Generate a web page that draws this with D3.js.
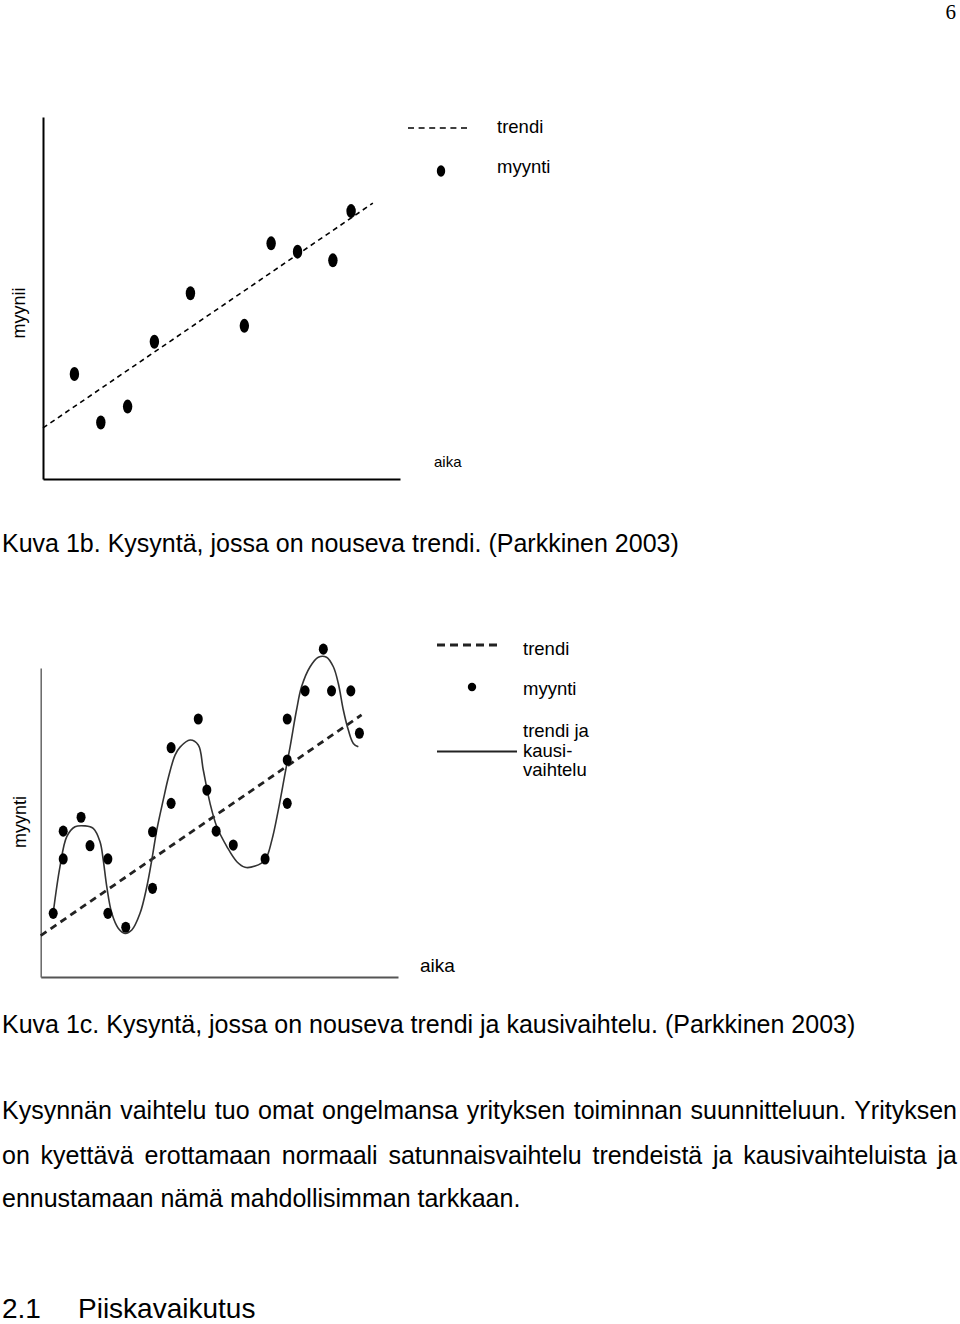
<!DOCTYPE html>
<html>
<head>
<meta charset="utf-8">
<script src="https://cdn.jsdelivr.net/npm/d3@7"></script>
<style>
  body { margin: 0; background: #fff; }
  svg text { font-family: "Liberation Sans", Arial, sans-serif; fill: #000; }
</style>
</head>
<body>
<svg id="page" width="960" height="1324"></svg>
<script>
// kuva 1b: myynti + trendi (x = aika 0..100, y = myynti 0..100)
const sales1X = [8.8, 16.2, 23.7, 31.2, 41.3, 56.4, 63.9, 71.3, 81.2, 86.3];
const sales1Y = [29.0, 15.6, 20.0, 37.9, 51.3, 42.3, 65.1, 62.8, 60.4, 74.0];
const trend1X = [0, 92.4];
const trend1Y = [14.1, 76.2];

// kuva 1c: myynti, trendi ja kausivaihtelu
const sales2X = [3.5, 6.3, 6.3, 11.3, 13.8, 18.8, 18.8, 23.8, 31.3, 31.3, 36.5, 36.5, 44.1,
                 46.5, 49.1, 53.9, 62.8, 69.0, 69.0, 69.0, 74.0, 79.1, 81.4, 86.8, 89.2];
const sales2Y = [20.6, 38.2, 47.2, 51.7, 42.5, 38.2, 20.6, 16.1, 47.0, 28.7, 74.2, 56.2, 83.5,
                 60.5, 47.2, 42.7, 38.2, 83.5, 70.2, 56.2, 92.6, 106.1, 92.6, 92.6, 78.9];
const trend2X = [0, 89.8];
const trend2Y = [13.4, 84.8];
const season2X = [3.5, 5.4, 7.3, 9.6, 12.4, 14.7, 16.6, 17.5, 18.5, 19.9, 21.7, 23.6, 25.5, 27.8,
                  29.7, 31.1, 32.5, 34.3, 35.7, 37.6, 39.0, 41.8, 44.1, 45.5, 47.4, 49.3, 52.1,
                  54.9, 57.2, 60.0, 62.8, 64.7, 66.5, 68.4, 69.8, 71.6, 73.0, 75.4, 77.7, 80.0,
                  81.9, 83.3, 84.7, 86.1, 87.5, 88.9];
const season2Y = [20.7, 35.7, 45.4, 48.6, 48.9, 48.1, 43.8, 37.9, 29.2, 20.6, 15.8, 14.1, 15.2, 20.6,
                  29.2, 37.9, 47.6, 57.3, 64.4, 71.8, 74.4, 76.7, 75.1, 67.0, 56.2, 48.6, 42.2,
                  37.3, 35.5, 35.9, 37.9, 44.3, 54.0, 65.9, 74.5, 86.4, 93.9, 100.4, 103.5, 103.5,
                  100.4, 95.0, 86.4, 79.9, 75.6, 74.5];

const caption1 = "Kuva 1b. Kysyntä, jossa on nouseva trendi. (Parkkinen 2003)";
const caption2 = "Kuva 1c. Kysyntä, jossa on nouseva trendi ja kausivaihtelu. (Parkkinen 2003)";
const paragraph = [
  "Kysynnän vaihtelu tuo omat ongelmansa yrityksen toiminnan suunnitteluun. Yrityksen",
  "on kyettävä erottamaan normaali satunnaisvaihtelu trendeistä ja kausivaihteluista ja",
  "ennustamaan nämä mahdollisimman tarkkaan."
];
const legend1 = ["trendi", "myynti"];
const legend2 = ["trendi", "myynti", "trendi ja", "kausi-", "vaihtelu"];

const svg = d3.select("#page");

// sivunumero
svg.append("text").attr("x", 956).attr("y", 19).attr("text-anchor", "end")
    .style("font-family", "'Liberation Serif', 'Times New Roman', serif")
    .style("font-size", "21px").text("6");

// ---------- kuva 1b ----------
let x1 = d3.scaleLinear().domain([0, 100]).range([43, 400]);
let y1 = d3.scaleLinear().domain([0, 100]).range([479, 117]);
let g1 = svg.append("g");

g1.append("g").attr("transform", "translate(0,479)")
    .call(d3.axisBottom(x1).tickValues([]).tickSizeOuter(0))
    .select(".domain").attr("stroke", "#000").attr("stroke-width", 2);
g1.append("g").attr("transform", "translate(43,0)")
    .call(d3.axisLeft(y1).tickValues([]).tickSizeOuter(0))
    .select(".domain").attr("stroke", "#000").attr("stroke-width", 2);

let line1 = d3.line().x(d => x1(d[0])).y(d => y1(d[1]));
g1.append("path")
    .attr("d", line1(d3.zip(trend1X, trend1Y)))
    .attr("fill", "none").attr("stroke", "#000")
    .attr("stroke-width", 1.6).attr("stroke-dasharray", "5,4");

g1.selectAll("ellipse.m1")
    .data(d3.zip(sales1X, sales1Y))
    .enter()
    .append("ellipse")
    .attr("class", "m1")
    .attr("cx", d => x1(d[0])).attr("cy", d => y1(d[1]))
    .attr("rx", 4.7).attr("ry", 7).attr("fill", "#000");

g1.append("text").attr("transform", "translate(25,313) rotate(-90)")
    .attr("text-anchor", "middle").style("font-size", "18px").text("myynii");
g1.append("text").attr("x", 434).attr("y", 467).style("font-size", "15px").text("aika");

// selite 1
g1.append("line").attr("x1", 408).attr("x2", 470).attr("y1", 128).attr("y2", 128)
    .attr("stroke", "#000").attr("stroke-width", 1.6).attr("stroke-dasharray", "6,4.6");
g1.append("ellipse").attr("cx", 441).attr("cy", 171).attr("rx", 4.2).attr("ry", 5.8).attr("fill", "#000");
g1.selectAll("text.leg1")
    .data(legend1)
    .enter()
    .append("text")
    .attr("class", "leg1")
    .attr("x", 497).attr("y", (d, i) => 133 + i * 40)
    .style("font-size", "18.5px").text(d => d);

// ---------- kuva 1c ----------
let x2 = d3.scaleLinear().domain([0, 100]).range([40.7, 398]);
let y2 = d3.scaleLinear().domain([0, 100]).range([977, 668]);
let g2 = svg.append("g");

g2.append("g").attr("transform", "translate(0,977)")
    .call(d3.axisBottom(x2).tickValues([]).tickSizeOuter(0))
    .select(".domain").attr("stroke", "#555").attr("stroke-width", 2);
g2.append("g").attr("transform", "translate(40.7,0)")
    .call(d3.axisLeft(y2).tickValues([]).tickSizeOuter(0))
    .select(".domain").attr("stroke", "#666").attr("stroke-width", 1.5);

let line2 = d3.line().x(d => x2(d[0])).y(d => y2(d[1]));
g2.append("path")
    .attr("d", line2(d3.zip(trend2X, trend2Y)))
    .attr("fill", "none").attr("stroke", "#222")
    .attr("stroke-width", 2.8).attr("stroke-dasharray", "7,5");

let curve2 = d3.line().x(d => x2(d[0])).y(d => y2(d[1])).curve(d3.curveCatmullRom.alpha(0.5));
g2.append("path")
    .attr("d", curve2(d3.zip(season2X, season2Y)))
    .attr("fill", "none").attr("stroke", "#333").attr("stroke-width", 1.6);

g2.selectAll("ellipse.m2")
    .data(d3.zip(sales2X, sales2Y))
    .enter()
    .append("ellipse")
    .attr("class", "m2")
    .attr("cx", d => x2(d[0])).attr("cy", d => y2(d[1]))
    .attr("rx", 4.5).attr("ry", 5.6).attr("fill", "#000");

g2.append("text").attr("transform", "translate(26,822) rotate(-90)")
    .attr("text-anchor", "middle").style("font-size", "18px").text("myynti");
g2.append("text").attr("x", 420).attr("y", 972).style("font-size", "19px").text("aika");

// selite 2
g2.append("line").attr("x1", 437).attr("x2", 502).attr("y1", 645).attr("y2", 645)
    .attr("stroke", "#222").attr("stroke-width", 3).attr("stroke-dasharray", "8,5");
g2.append("circle").attr("cx", 472).attr("cy", 687).attr("r", 4.2).attr("fill", "#000");
g2.append("line").attr("x1", 437).attr("x2", 517).attr("y1", 751.5).attr("y2", 751.5)
    .attr("stroke", "#222").attr("stroke-width", 2);
let leg2Y = [655, 695, 737, 756.5, 776];
g2.selectAll("text.leg2")
    .data(legend2)
    .enter()
    .append("text")
    .attr("class", "leg2")
    .attr("x", 523).attr("y", (d, i) => leg2Y[i])
    .style("font-size", "18.5px").text(d => d);

// ---------- tekstit ----------
svg.append("text").attr("x", 2).attr("y", 552).style("font-size", "25px").text(caption1);
svg.append("text").attr("x", 2).attr("y", 1033).style("font-size", "25px").text(caption2);

let paraY = [1119, 1164, 1207];
svg.selectAll("text.para")
    .data(paragraph)
    .enter()
    .append("text")
    .attr("class", "para")
    .attr("x", 2).attr("y", (d, i) => paraY[i])
    .style("font-size", "25px").text(d => d)
    .each(function (d, i) {
        if (i < paragraph.length - 1) {
            // tasaus molempiin reunoihin
            let w = this.getComputedTextLength();
            let spaces = d.split(" ").length - 1;
            let extra = (955 - w) / spaces;
            d3.select(this).style("word-spacing", extra + "px");
        }
    });

svg.append("text").attr("x", 2).attr("y", 1318).style("font-size", "28px").text("2.1");
svg.append("text").attr("x", 78).attr("y", 1318).style("font-size", "28px").text("Piiskavaikutus");
</script>
</body>
</html>
